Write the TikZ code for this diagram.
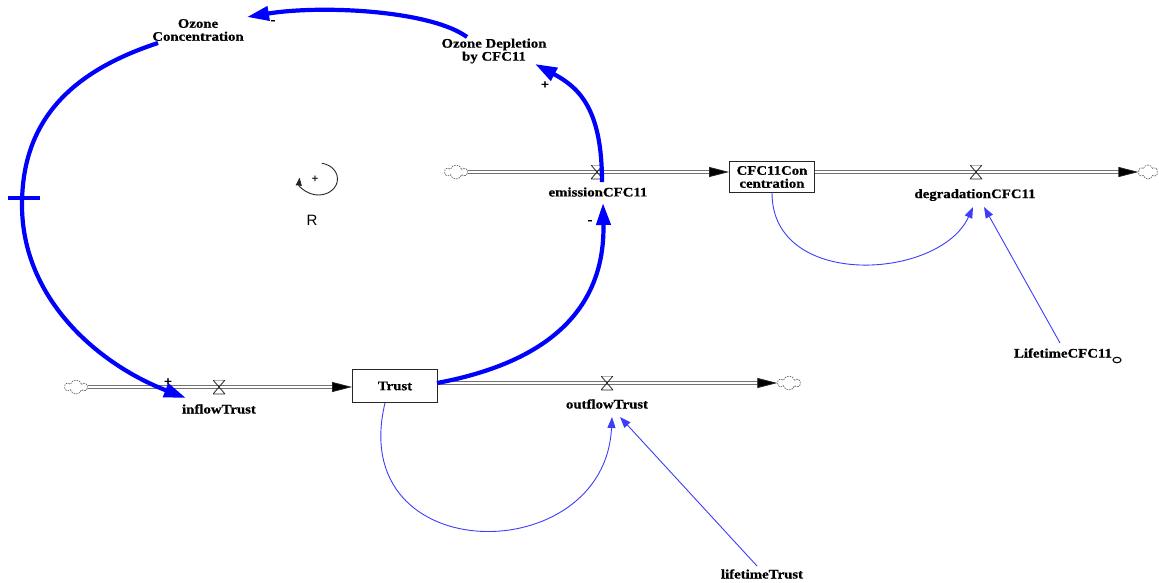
\documentclass[tikz,border=0pt]{standalone}
\usepackage{fontspec}
\newfontfamily\vfont{Liberation Serif}[FakeStretch=1.14, BoldFeatures={FakeStretch=1.14,FakeBold=0.6}]
\newfontfamily\rfont{Liberation Sans}
\usetikzlibrary{arrows.meta,shapes.symbols,shapes.geometric}
\definecolor{linkblue}{RGB}{0,0,255}
\definecolor{thinblue}{RGB}{60,60,250}
\begin{document}
\begin{tikzpicture}[x=1pt,y=-1pt,
  lbl/.style={font=\vfont\bfseries\fontsize{13}{13}\selectfont, align=center, inner sep=0pt, text=black},
  stock/.style={lbl, draw=black!85, line width=0.9pt, minimum width=85pt, minimum height=33pt},
  cloudend/.style={cloud, cloud puffs=6, draw=black!60, dash pattern=on 1.6pt off 1pt, line width=0.7pt, minimum width=22pt, minimum height=14pt, inner sep=0pt},
  valve/.style={minimum width=12pt, minimum height=14pt, inner sep=0pt,
    path picture={\draw[line width=0.8pt, black!85]
      (path picture bounding box.north west) -- (path picture bounding box.north east)
      -- (path picture bounding box.south west) -- (path picture bounding box.south east) -- cycle;}},
  pipe/.style={draw=black!85, line width=0.8pt, double=white, double distance=1.7pt},
  pipearrow/.style={pipe, -{Triangle[length=20pt,width=10pt,fill=black]}},
  thicklink/.style={draw=linkblue, line width=4.2pt, -{Triangle[length=22pt,width=14pt]}},
  thinlink/.style={draw=thinblue, line width=0.9pt, -{Triangle[length=11pt,width=8pt]}},
  signlbl/.style={font=\vfont\bfseries\fontsize{13}{13}\selectfont, inner sep=0pt}
]
\useasboundingbox (0,0) rectangle (1159,582);

% nodes
\node[lbl] (oc) at (198,30) {Ozone\\Concentration};
\node[lbl] (od) at (494,51) {Ozone Depletion\\by CFC11};
\node[stock] (trust) at (395,386) {Trust};
\node[stock, minimum height=31pt] (cfc) at (772,177) {CFC11Con\\centration};

\node[cloudend] (cl1) at (76,387) {};
\node[cloudend] (cl2) at (789,383) {};
\node[cloudend] (cl3) at (456,172) {};
\node[cloudend, minimum width=19pt] (cl4) at (1148,172) {};

% pipes
\draw[pipearrow] (cl1.east) -- (trust.west |- cl1.center);
\draw[pipearrow] (trust.east |- cl2.center) -- (cl2.west);
\draw[pipearrow] (cl3.east) -- (cfc.west |- cl3.center);
\draw[pipearrow] (cfc.east |- cl4.center) -- (cl4.west);

\node[valve] (vIn) at (219,387) {};
\node[valve] (vOut) at (607,383) {};
\node[valve] (vEm) at (597,172) {};
\node[valve] (vDeg) at (976,172) {};

\node[lbl] (lIn) at (219,409) {inflowTrust};
\node[lbl] (lOut) at (607,404) {outflowTrust};
\node[lbl] (lEm) at (598,192) {emissionCFC11};
\node[lbl] (lDeg) at (975,195) {degradationCFC11};
\node[lbl] (ltC) at (1063,353) {LifetimeCFC11};
\node[draw=black, line width=1.1pt, ellipse, minimum width=8pt, minimum height=5.5pt, inner sep=0pt] (ltCo) at (1117,360) {};
\node[lbl] (ltT) at (762,574) {lifetimeTrust};

% signs
\node[signlbl] (s1) at (273,22) {-};
\node[signlbl] (s2) at (545,85) {+};
\node[signlbl] (s3) at (590,222) {-};
\node[signlbl] (s4) at (168,382) {+};

% loop symbol
\node[font=\rfont\bfseries\fontsize{11}{11}\selectfont, text=black!85, inner sep=0pt] (lp) at (315,179) {+};
\draw[line width=0.9pt, black!85, -{Triangle[length=8pt,width=6pt]}]
  ([shift={(4,0)}]lp.center) ++(280:16) arc[start angle=280, end angle=545, x radius=19, y radius=16];
\node[font=\rfont\fontsize{15}{15}\selectfont, inner sep=0pt] (R) at (312,220) {R};

% thick causal links
\draw[thicklink] ([shift={(-27,-14)}]od.center) .. controls (430,10) and (320,5) .. ([shift={(49,-13)}]oc.center);
\draw[thicklink] ([shift={(-40,13)}]oc.center) .. controls (60,75) and (22,130) .. (22,205)
  .. controls (22,300) and (100,365) .. ([shift={(-33,11)}]vIn.center);
\draw[linkblue, line width=4pt] (8,198) -- (40,198);
\draw[thicklink] ([shift={(42,-3)}]trust.center) .. controls (560,360) and (605,300) .. ([shift={(6,31)}]vEm.center);
\draw[thicklink] ([shift={(5,10)}]vEm.center) .. controls (602,110) and (580,88) .. ([shift={(41,13)}]od.center);

% thin links
\draw[thinlink] (cfc.south) .. controls (772,290) and (940,280) .. ([shift={(-2,12)}]lDeg.center);
\draw[thinlink] ([shift={(-3,-10)}]ltC.center) -- ([shift={(9,12)}]lDeg.center);
\draw[thinlink] ([shift={(-10,0)}]trust.south) .. controls (345,570) and (605,570) .. ([shift={(5,13)}]lOut.center);
\draw[thinlink] ([shift={(-5,-8)}]ltT.center) -- ([shift={(13,13)}]lOut.center);
\end{tikzpicture}
\end{document}
